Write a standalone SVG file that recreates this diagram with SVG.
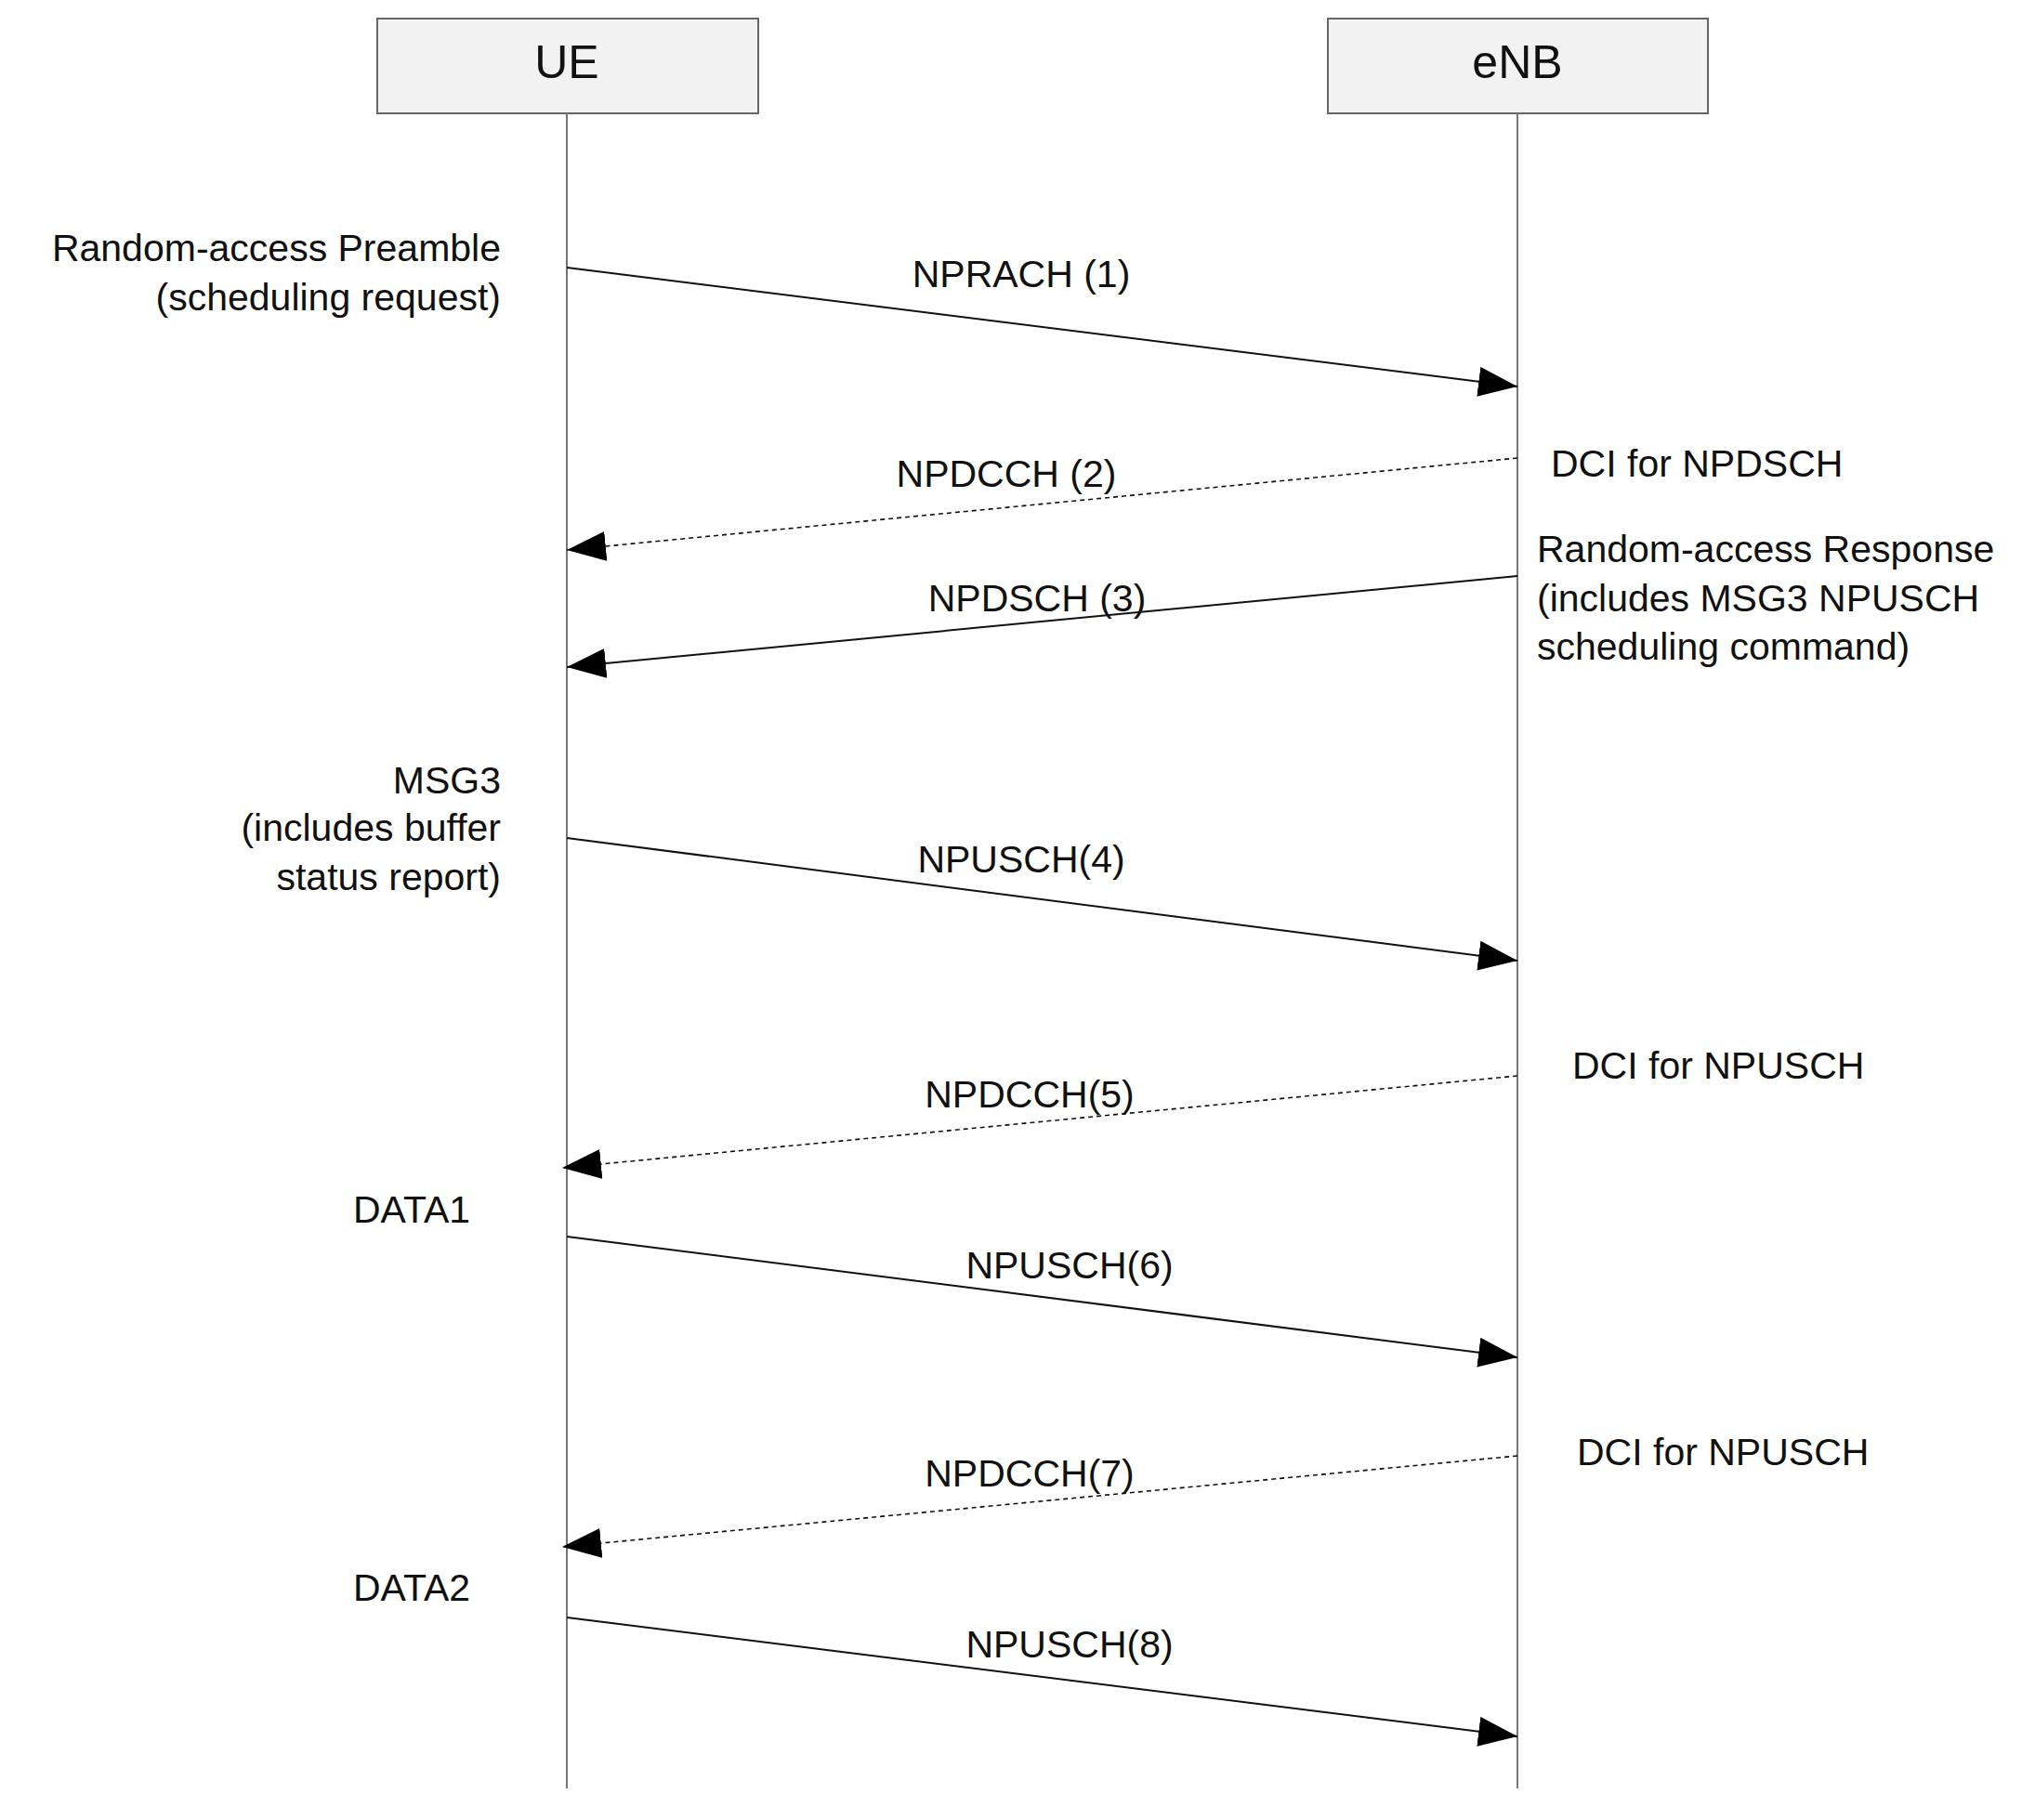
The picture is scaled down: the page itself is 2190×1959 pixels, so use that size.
<svg xmlns="http://www.w3.org/2000/svg" width="2190" height="1959" viewBox="0 0 2190 1959">
<style>
text{font-family:"Liberation Sans",Arial,sans-serif;font-size:41px;fill:#111}
.box{fill:#f2f2f2;stroke:#666;stroke-width:2}
.life{stroke:#777;stroke-width:2}
.msg{stroke:#111;stroke-width:2;fill:none}
.dash{stroke-dasharray:5,4;stroke-width:1.6}
.m{text-anchor:middle}
.r{text-anchor:end}
</style>
<defs>
<marker id="ah" markerUnits="userSpaceOnUse" markerWidth="44" markerHeight="34" refX="42" refY="16" orient="auto">
<path d="M0,0 L42,16 L0,32 Z" fill="#000"/>
</marker>
</defs>
<rect width="2190" height="1959" fill="#fff"/>
<g id="UE"><rect class="box" x="406" y="20" width="410" height="102"/><text class="m" x="610" y="84" style="font-size:50px">UE</text><line class="life" x1="610" y1="122" x2="610" y2="1925"/></g>
<g id="eNB"><rect class="box" x="1429" y="20" width="409" height="102"/><text class="m" x="1633" y="84" style="font-size:50px">eNB</text><line class="life" x1="1633" y1="122" x2="1633" y2="1925"/></g>
<g id="connectors">
<line class="msg" x1="610" y1="288" x2="1633" y2="416" marker-end="url(#ah)"/>
<line class="msg dash" x1="1633" y1="493" x2="610" y2="592" marker-end="url(#ah)"/>
<line class="msg" x1="1633" y1="620" x2="610" y2="718" marker-end="url(#ah)"/>
<line class="msg" x1="610" y1="902" x2="1633" y2="1034" marker-end="url(#ah)"/>
<line class="msg dash" x1="1633" y1="1158" x2="605" y2="1257" marker-end="url(#ah)"/>
<line class="msg" x1="610" y1="1331" x2="1633" y2="1461" marker-end="url(#ah)"/>
<line class="msg dash" x1="1633" y1="1567" x2="605" y2="1665" marker-end="url(#ah)"/>
<line class="msg" x1="610" y1="1741" x2="1633" y2="1869" marker-end="url(#ah)"/>
</g>
<g id="labels">
<text class="m" x="1099" y="309">NPRACH (1)</text>
<text class="m" x="1083" y="524">NPDCCH (2)</text>
<text class="m" x="1116" y="658">NPDSCH (3)</text>
<text class="m" x="1099" y="939">NPUSCH(4)</text>
<text class="m" x="1108" y="1192">NPDCCH(5)</text>
<text class="m" x="1151" y="1376">NPUSCH(6)</text>
<text class="m" x="1108" y="1600">NPDCCH(7)</text>
<text class="m" x="1151" y="1784">NPUSCH(8)</text>
<text class="r" x="539" y="281">Random-access Preamble</text>
<text class="r" x="539" y="334">(scheduling request)</text>
<text class="r" x="539" y="854">MSG3</text>
<text class="r" x="539" y="905">(includes buffer</text>
<text class="r" x="539" y="958">status report)</text>
<text x="380" y="1316">DATA1</text>
<text x="380" y="1723">DATA2</text>
<text x="1669" y="513">DCI for NPDSCH</text>
<text x="1654" y="605">Random-access Response</text>
<text x="1654" y="658">(includes MSG3 NPUSCH</text>
<text x="1654" y="710">scheduling command)</text>
<text x="1692" y="1161">DCI for NPUSCH</text>
<text x="1697" y="1577">DCI for NPUSCH</text>
</g>
</svg>
